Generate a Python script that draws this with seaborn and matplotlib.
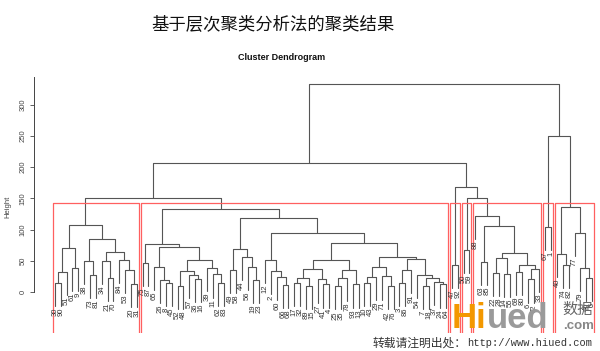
import matplotlib
matplotlib.use("Agg")
import matplotlib.pyplot as plt
import seaborn as sns
import pandas as pd

# --- data: subtrees as [left, right, merge height]; ints are leaf labels ---
cluster1 = [[[[30, 90, 14], 51, 32], [61, 9, 38], 70],
            [[38, [73, 81, 27], 50],
             [[34, [21, 70, 22], 50], [84, [53, [20, 31, 13], 35], 51], 64], 85],
            107]
cluster2_left = [[75, 87, 47],
                 [[65, [26, [8, 45, 14], 19], 40],
                  [[[52, 48, 10], [57, [36, 16, 21], 27], 34],
                   [39, [11, [62, 83, 15], 28], 38], 51], 72],
                 77]
cluster2_a = [[49, 58, 35], [44, [56, [19, 23, 19], 40], 56], 69]
cluster2_b1 = [12, [2, [60, [66, 68, 11], 24], 34], 51]
cluster2_c = [[[[17, 32, 14], [89, 15, 10], 22], [27, [41, 4, 12], 20], 37],
              [[[25, 35, 9], 78, 22], [93, 13, 12], 35], 51]
cluster2_d = [[[[10, 43, 15], 29, 24], [71, [42, 76, 9], 25], 40],
              [[[3, 86, 14], 91, 35],
               [54, [[7, 18, 10], [37, [24, 64, 12], 16], 22], 27], 53], 56]
cluster2 = [cluster2_left,
            [cluster2_a, [cluster2_b1, [cluster2_c, cluster2_d, 79], 94], 119],
            133]
cluster3 = [47, 92, 43]
cluster4 = [50, 59, 67]
cluster5 = [88, [[63, 85, 48],
                 [[[22, 28, 30], [14, 55, 29], 54],
                  [[69, 80, 32], [[6, 72, 20], 33, 37], 43], 62], 106], 122]
cluster6 = [67, 1, 104]
cluster7 = [[40, [74, 82, 43], 61], [77, [79, [46, 5, 22], 38], 95], 136]

tree = [[[cluster1, cluster2, 150], [cluster3, [cluster4, cluster5, 150], 168], 207],
        [cluster6, cluster7, 250], 333]

n_groups = 7
y_ticks = [0, 50, 100, 150, 200, 250, 300]
title = "基于层次聚类分析法的聚类结果"
subtitle = "Cluster Dendrogram"

sns.set_style("white")
plt.rcParams['font.family'] = ['Liberation Sans', 'Noto Sans CJK SC', 'DejaVu Sans']


def all_heights(node, out):
    if isinstance(node, list):
        all_heights(node[0], out)
        all_heights(node[1], out)
        out.append(node[2])
    return out


heights = sorted(all_heights(tree, []), reverse=True)
hang = 0.115 * (max(heights) - min(heights))

leaves, leaf_ys, segs = [], [], []


def walk(node, parent_h):
    if not isinstance(node, list):
        leaves.append(node)
        leaf_ys.append(parent_h - hang)
        return len(leaves), parent_h - hang
    left, right, h = node
    xl, yl = walk(left, h)
    xr, yr = walk(right, h)
    sid = len(segs)
    segs.extend([(sid, xl, yl), (sid, xl, h), (sid, xr, h), (sid, xr, yr)])
    return (xl + xr) / 2, h


walk(tree, max(heights))
seg_df = pd.DataFrame(segs, columns=["seg", "x", "y"])
n = len(leaves)


def count(node):
    return count(node[0]) + count(node[1]) if isinstance(node, list) else 1


# rect.hclust style groups
cut = (heights[n_groups - 2] + heights[n_groups - 1]) / 2
groups = []


def split(node, start):
    if not isinstance(node, list) or node[2] < cut:
        groups.append((start, start + count(node) - 1))
        return start + count(node)
    nxt = split(node[0], start)
    return split(node[1], nxt)


split(tree, 1)

fig = plt.figure(figsize=(6, 3.51), dpi=100)
ax = fig.add_axes([33.5 / 600, 18 / 351, 580 / 600, 258 / 351])
y_lo, y_hi = -66, 348

rect_rows = []
for i, (a, b) in enumerate(groups):
    x0, x1 = a - 0.34, b + 0.33
    for x, y in [(x0, y_lo), (x0, cut), (x1, cut), (x1, y_lo)]:
        rect_rows.append((i, x, y))
rect_df = pd.DataFrame(rect_rows, columns=["grp", "x", "y"])

sns.lineplot(data=seg_df, x="x", y="y", units="seg", estimator=None, sort=False,
             color="#555555", linewidth=0.8, ax=ax, legend=False)
sns.lineplot(data=rect_df, x="x", y="y", units="grp", estimator=None, sort=False,
             color="#ff6060", linewidth=0.9, ax=ax, legend=False)

for i, (lab, ly) in enumerate(zip(leaves, leaf_ys)):
    ax.text(i + 1, ly - 2.5, str(lab), rotation=90, ha="center",
            va="top", fontsize=5.5, color="#333333")

ax.set_xlim(1 - 0.04 * (n - 1), n + 0.04 * (n - 1))
ax.set_ylim(y_lo, y_hi)
ax.set_xticks([])
ax.set_yticks(y_ticks)
ax.set_yticklabels([str(t) for t in y_ticks], rotation=90, va="center",
                   fontsize=5.5, color="#444444")
ax.tick_params(axis="y", length=3, width=0.6, color="#444444", pad=2, left=True)
ax.set_xlabel("")
ax.set_ylabel("")
for s in ["top", "right", "bottom"]:
    ax.spines[s].set_visible(False)
ax.spines["left"].set_bounds(0, 345)
ax.spines["left"].set_color("#444444")
ax.spines["left"].set_linewidth(0.7)

fig.text(8 / 600, 1 - 207 / 351, "Height", rotation=90, ha="center", va="center",
         fontsize=5.5, color="#444444")
fig.text(273 / 600, 1 - 24 / 351, title, ha="center", va="center", fontsize=12.5,
         family=["Noto Sans CJK SC"], color="#111111")
fig.text(282 / 600, 1 - 57 / 351, subtitle, ha="center", va="center", fontsize=6.5,
         fontweight="bold", color="#111111")

# watermark
fig.text(452 / 600, 1 - 328 / 351, "Hi", color="#f39800", fontsize=25,
         fontweight="bold", va="baseline", ha="left", zorder=5)
fig.text(487 / 600, 1 - 328 / 351, "ued", color="#9a9a9a", fontsize=25,
         fontweight="bold", va="baseline", ha="left", zorder=5)
fig.text(562 / 600, 1 - 309 / 351, "数据", color="#666666", fontsize=11,
         family=["Noto Sans CJK SC"], va="center", ha="left", zorder=5)
fig.text(563 / 600, 1 - 329 / 351, ".com", color="#888888", fontsize=9.5,
         fontweight="bold", va="baseline", ha="left", zorder=5)
fig.text(373 / 600, 1 - 343 / 351, "转载请注明出处：", color="#333333", fontsize=8.5,
         family=["Noto Sans CJK SC"], va="center", ha="left")
fig.text(467 / 600, 1 - 343 / 351, "http://www.hiued.com", color="#333333",
         fontsize=7.5, family=["Liberation Mono"], va="center", ha="left")

fig.savefig("out.png", dpi=100)
